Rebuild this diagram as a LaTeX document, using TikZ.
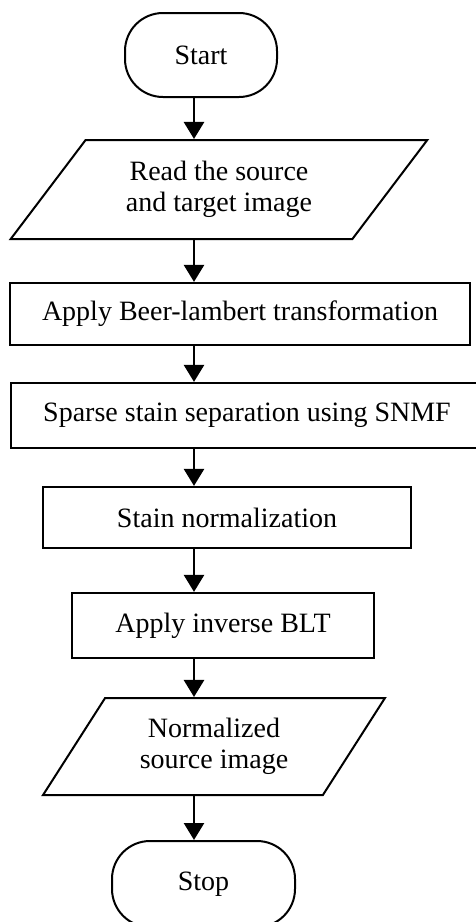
\documentclass[tikz,border=0pt]{standalone}
\usepackage{fontspec}
\setmainfont{Liberation Serif}
\usetikzlibrary{shapes.geometric, arrows.meta}

\begin{document}
\begin{tikzpicture}[x=1pt, y=-1pt,
    every node/.style={font=\fontsize{28}{31}\selectfont, align=center},
    term/.style={draw, line width=2pt, rounded corners=38pt},
    io/.style={draw, line width=2pt, trapezium, trapezium stretches=true},
    box/.style={draw, line width=2.2pt},
    arr/.style={line width=2.6pt, -{Triangle[length=17pt, width=20pt]}}]
  \useasboundingbox (0,0) rectangle (475,922);

  % Spine of the arrows
  \coordinate (spine) at (194,0);

  % Steps
  \node[term, minimum width=152pt, minimum height=84pt] (start) at (201,55) {Start};
  \node[io, trapezium left angle=49.4, trapezium right angle=130.6,
        minimum width=418pt, minimum height=99pt] (read) at (219,189.5)
        {Read the source\\and target image};
  \node[box, minimum width=460pt, minimum height=62pt] (blt) at (240,314)
        {Apply Beer-lambert transformation};
  \node[box, minimum width=472pt, minimum height=65pt] (snmf) at (247,415.5)
        {Sparse stain separation using SNMF};
  \node[box, minimum width=368pt, minimum height=61pt] (norm) at (227,517.5)
        {Stain normalization};
  \node[box, minimum width=302pt, minimum height=65pt] (iblt) at (223,625.5)
        {Apply inverse BLT};
  \node[io, trapezium left angle=55, trapezium right angle=125,
        minimum width=342pt, minimum height=97pt] (out) at (214,746.5)
        {Normalized\\source image};
  \node[term, minimum width=183pt, minimum height=86pt] (stop) at (203.5,884) {Stop};

  % Arrows
  \draw[arr] (spine |- start.south) -- (spine |- read.north);
  \draw[arr] (spine |- read.south) -- (spine |- blt.north);
  \draw[arr] (spine |- blt.south) -- (spine |- snmf.north);
  \draw[arr] (spine |- snmf.south) -- (spine |- norm.north);
  \draw[arr] (spine |- norm.south) -- (spine |- iblt.north);
  \draw[arr] (spine |- iblt.south) -- (spine |- out.north);
  \draw[arr] (spine |- out.south) -- (spine |- stop.north);
\end{tikzpicture}
\end{document}
